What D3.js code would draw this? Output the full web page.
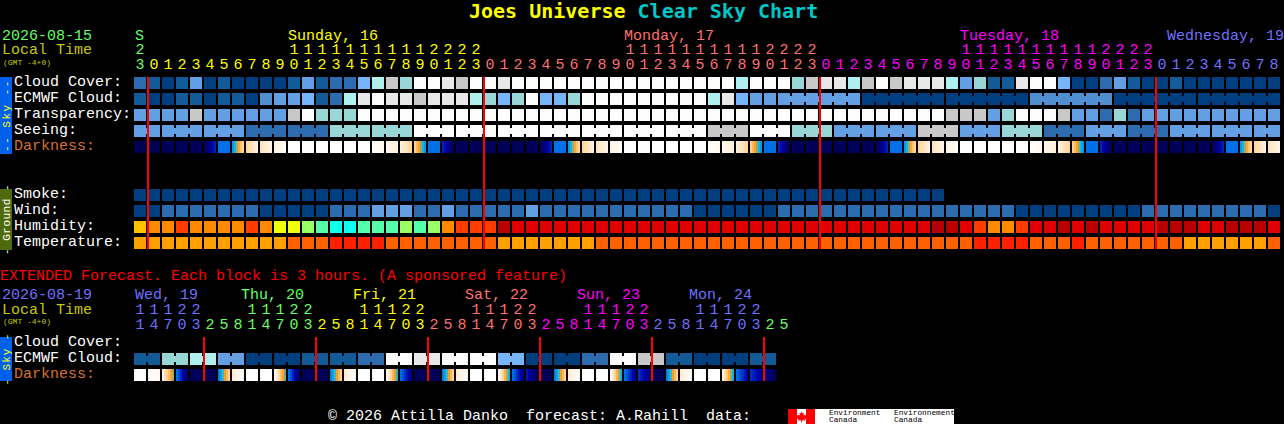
<!DOCTYPE html>
<html>
<head>
<meta charset="utf-8">
<script src="https://cdn.jsdelivr.net/npm/d3@7/dist/d3.min.js"></script>
<style>
html,body{margin:0;padding:0;background:#000;overflow:hidden}
svg{display:block}
text{font-family:"Liberation Mono",monospace;white-space:pre}
text.title{font-family:"DejaVu Sans Mono",monospace}
</style>
</head>
<body>
<script>
// ---------- DATA ----------
const hours = [23,...d3.range(24),...d3.range(24),...d3.range(24),...d3.range(9)];
const hourDays = [["#66ff66",1],["#ffff00",24],["#ff7070",24],["#ff00ff",24],["#7070ff",9]];
const dayLabels = [["S",135,"#66ff66"],["Sunday, 16",288,"#ffff00"],["Monday, 17",624,"#ff7070"],["Tuesday, 18",960,"#ff00ff"],["Wednesday, 19",1167,"#7070ff"]];

const cloudColors = ["#003f7f","#135b98","#2c6cae","#4f8fd0","#62a0e3","#77b5fa","#99d6d6","#aef0ee","#c8c8c8","#e8e8e8","#fcfcfc"];
const humidityColors = ["#b80000","#e00000","#ff3c00","#ff8a00","#ffc000","#eeff10","#99ff66","#55ffaa","#11ffee"];
const temperatureColors = ["#ff2000","#ff6000","#ffa000"];
const darknessStops = [0,1,2,3,4,5,6,7];
const darknessColors = ["#000050","#0000a8","#0070e8","#00b8f0","#ffa020","#ffd090","#fff0dc","#ffffff"];

const cloudCover = [2,1,0,1,4,0,1,0,0,0,0,1,4,1,2,2,5,7,8,6,10,
  10,9,8,10,10,9,10,10,10,10,10,10,10,10,10,10,10,10,10,10,10,10,7,10,10,10,6,8,9,9,7,
  8,10,8,9,9,9,7,4,6,1,1,9,10,10,5,0,0,2,4,1,0,0,1,0,0,0,0,0,0,0];
const ecmwfCloud = [1,0,0,1,1,0,1,1,0,3,4,4,5,1,2,7,9,10,9,9,8,
  9,9,9,7,6,5,6,10,5,5,6,10,10,10,10,10,10,10,10,10,7,9,5,4,4,4,4,4,4,4,4,
  0,0,0,0,0,0,0,0,0,0,0,0,3,3,3,3,3,3,0,0,0,0,0,0,0,0,0,0,0,0];
const ecmwfBlocks = [...Array(46).fill(1),6,6,6,6,6,6];
const transparency = [4,4,4,4,8,4,4,4,4,4,4,8,10,6,6,6,10,10,10,10,10,
  10,10,10,10,10,10,10,10,10,10,10,10,10,10,10,10,10,10,10,10,10,10,10,10,10,10,10,10,10,10,10,
  10,10,10,10,10,10,8,8,8,4,6,10,10,10,8,4,4,2,6,2,4,4,4,4,4,4,4,4,4,4];
const seeing = [4,4,4,4,4,4,4,4,2,2,2,2,2,2,6,6,6,6,6,6,10,
  10,10,10,10,10,10,10,10,10,10,10,10,10,10,10,10,10,10,10,10,8,8,8,10,10,10,6,6,6,4,4,
  4,4,4,4,8,8,8,4,4,4,6,6,6,2,2,2,4,4,4,2,2,2,4,4,4,4,4,4,4,4];
const seeingBlocks = [2,3,3,3,3,3,3,3,3,3,3,3,3,3,3,3,3,3,3,3,3,3,3,3,3,3,3,2];
const darkness = [0,0,.1,.1,.1,[.1,1.3],2,[2.6,5.2],[5.2,6],[5.6,6.3],[6.2,6.8],7,7,7,7,7,7,[6.9,6.5],[6.4,6],[6,5.2],[5,2.6],
  2,[1.3,.1],.1,.1,.1,.1,.1,.1,[.1,1.3],2,[2.6,5.2],[5.2,6],[5.6,6.3],[6.2,6.8],7,7,7,7,7,7,[6.9,6.5],[6.4,6],[6,5.2],[5,2.6],2,[1.3,.1],.1,.1,.1,.1,.1,
  .1,[.1,1.3],2,[2.6,5.2],[5.2,6],[5.6,6.3],[6.2,6.8],7,7,7,7,7,[6.9,6.5],[6.4,6],[6,5.2],[5,2.6],2,[1.3,.1],.1,.1,.1,.1,.1,.1,.1,[.1,1.3],2,[2.6,5.2],[5.2,6],[5.6,6.3]];
const smoke = Array(58).fill(0);
const wind = [0,0,2,2,2,2,2,2,2,0,0,0,0,0,2,2,2,4,4,4,2,
  2,4,2,2,2,2,2,4,2,2,2,2,2,2,2,2,2,2,2,0,0,0,0,0,0,2,2,2,2,2,2,
  2,2,2,2,2,2,2,2,2,2,2,0,0,0,0,0,0,0,0,0,2,2,2,2,2,2,2,2,2,0];
const humidity = [4,3,3,2,3,3,3,3,2,3,5,5,6,7,8,8,7,7,7,6,7,
  6,3,2,2,2,0,1,1,1,1,1,1,1,1,1,1,1,1,1,1,1,1,1,1,1,1,1,1,1,1,1,
  1,1,1,1,1,0,0,1,2,3,3,2,1,1,0,1,0,1,1,1,1,0,0,0,1,1,0,0,0,1];
const temperature = [2,2,2,2,2,2,2,2,2,2,2,1,1,1,0,0,0,0,1,1,1,
  1,1,1,1,1,2,2,2,2,2,2,2,1,1,1,1,1,1,1,1,1,1,1,1,1,1,1,1,1,1,1,
  1,1,1,1,1,1,1,1,0,0,0,0,1,1,1,0,1,1,1,1,1,1,1,2,2,2,2,2,2,1];
const midnights = [1,25,49,73];

const extHours = [11,14,17,20,23,2,5,8,11,14,17,20,23,2,5,8,11,14,17,20,23,2,5,8,11,14,17,20,23,2,5,8,11,14,17,20,23,2,5,8,11,14,17,20,23,2,5];
const extHourDays = [["#7070ff",5],["#66ff66",8],["#ffff00",8],["#ff7070",8],["#ff00ff",8],["#7070ff",8],["#66ff66",2]];
const extDayLabels = [["Wed, 19",135,"#7070ff"],["Thu, 20",241,"#66ff66"],["Fri, 21",353,"#ffff00"],["Sat, 22",465,"#ff7070"],["Sun, 23",577,"#ff00ff"],["Mon, 24",689,"#7070ff"]];
const extEcmwf = [1,1,6,6,7,7,4,4,0,0,0,0,1,1,1,1,2,2,10,10,9,9,10,10,10,10,5,5,0,0,0,0,2,2,10,10,8,8,1,1,0,0,0,0,1,1];
const extBlocks = Array(23).fill(2);
const extDarkness = [7,[7,6.6],[6,3.6],[2,.3],.1,.1,[2.2,5],[5.8,6.8],7,7,[6.5,3.4],[2,.3],.1,.1,[2.2,5],[5.8,6.8],7,[7,6.8],[6.5,3.2],[2,.6],.1,
  .1,[2.2,5],[5.8,6.8],7,7,[6.5,3],[2,.6],[1.2,.1],.1,[2.2,5],[5.8,6.8],7,7,[6.5,3],[2,.8],[1.4,.6],.1,[2.2,5],[5.8,6.8],7,7,[6,3],[2,1],[1.4,.9],[.6,.1]];
const extMidnights = [5,13,21,29,37,45];

// ---------- SCALES ----------
const W = 1284, H = 424, CELL = 12, STEP = 14, LEFT = 134;
const x = d3.scaleBand().domain(d3.range(90)).range([LEFT, LEFT + STEP*90 - 2]).paddingInner(2/STEP).paddingOuter(0);
const mainRowY = d3.scaleLinear().domain([0,1]).range([77,93]);
const extRowY = d3.scaleLinear().domain([0,1]).range([337,353]);
const cloudScale = d3.scaleOrdinal(d3.range(cloudColors.length), cloudColors);
const humidityScale = d3.scaleOrdinal(d3.range(humidityColors.length), humidityColors);
const temperatureScale = d3.scaleOrdinal(d3.range(temperatureColors.length), temperatureColors);
const darknessScale = d3.scaleLinear().domain(darknessStops).range(darknessColors);

const svg = d3.select("body").append("svg").attr("width",W).attr("height",H).attr("viewBox",`0 0 ${W} ${H}`);
svg.append("rect").attr("width",W).attr("height",H).attr("fill","#000");

function label(s,xp,y,fill,size=15,weight="normal"){
  return svg.append("text").attr("x",xp).attr("y",y).attr("fill",fill).attr("font-size",size).attr("font-weight",weight).text(s);
}
function blockStarts(blocks){ let s=[],p=0; blocks.forEach(b=>{s.push(p);p+=b;}); return s; }

function drawRow(values,y,scale,blocks){
  const g = svg.append("g");
  g.selectAll("rect.c").data(values).join("rect").attr("class","c")
    .attr("x",(d,i)=>x(i)).attr("y",y).attr("width",x.bandwidth()).attr("height",CELL).attr("fill",d=>scale(d));
  if(blocks){
    const joins=[];
    blockStarts(blocks).forEach((s,k)=>{ for(let j=0;j<blocks[k]-1;j++) joins.push(s+j); });
    g.selectAll("rect.j").data(joins).join("rect").attr("class","j")
      .attr("x",i=>x(i)+CELL).attr("y",y+3).attr("width",STEP-CELL).attr("height",6).attr("fill",i=>scale(values[i]));
  }
}
function drawDarkness(values,y){
  const strips=[];
  values.forEach((v,i)=>{
    const [l,r]=Array.isArray(v)?v:[v,v];
    const t=d3.scaleLinear().domain([0,5]).range([l,r]);
    d3.range(6).forEach(k=>strips.push({i,k,val:t(k)}));
  });
  svg.append("g").selectAll("rect").data(strips).join("rect")
    .attr("x",d=>x(d.i)+d.k*2).attr("y",y).attr("width",2.05).attr("height",CELL)
    .attr("fill",d=>darknessScale(d.val)).attr("shape-rendering","crispEdges");
}
function hourAxis(hrs,days,y,fmt,keep){
  const colours=[]; days.forEach(([c,n])=>{ for(let k=0;k<n;k++) colours.push(c); });
  const idx=d3.range(hrs.length).filter(i=>keep(hrs[i]));
  const g=svg.append("g").attr("transform",`translate(0,${y})`)
    .call(d3.axisTop(x).tickValues(idx).tickSize(0).tickPadding(0).tickFormat(i=>fmt(hrs[i])));
  g.select(".domain").remove();
  g.attr("font-family",null).attr("font-size",null);
  g.selectAll(".tick text").attr("dy",0).attr("y",0).attr("font-size",15)
    .attr("fill",(i)=>colours[i]);
}
function redLines(list,y0,y1){
  svg.append("g").selectAll("rect").data(list).join("rect")
    .attr("x",i=>x(i)-1).attr("width",2).attr("y",y0).attr("height",y1-y0).attr("fill","#ff0000");
}
function sideBar(y0,y1,fill,textFill,txt,spacing){
  svg.append("rect").attr("x",0).attr("y",y0).attr("width",12).attr("height",y1-y0).attr("fill",fill);
  svg.append("text").attr("transform",`translate(9.5,${(y0+y1)/2}) rotate(-90)`).attr("text-anchor","middle")
    .attr("fill",textFill).attr("font-size",11).attr("letter-spacing",spacing).text(txt);
}

// ---------- TITLE ----------
const title = svg.append("text").attr("class","title").attr("x",469).attr("y",18).attr("font-size",20).attr("font-weight","bold");
title.append("tspan").attr("fill","#ffff00").text("Joes Universe ");
title.append("tspan").attr("fill","#00c8c8").text("Clear Sky Chart");

// ---------- MAIN HEADER ----------
label("2026-08-15",2,40,"#66ff66");
label("Local Time",2,54,"#c8c800");
label("(GMT -4+0)",3,65,"#c8c800",8);
dayLabels.forEach(([s,xp,c])=>label(s,xp,40,c));
hourAxis(hours,hourDays,54,h=>Math.floor(h/10),h=>h>=10);
hourAxis(hours,hourDays,69,h=>h%10,()=>true);

// ---------- MAIN ROWS ----------
sideBar(77,154,"#0060ea","#ffff20","-- Sky --",1.5);
sideBar(189,250,"#4f6a0c","#ffffff","- Ground -",0.5);
[["Cloud Cover:",0],["ECMWF Cloud:",1],["Transparency:",2],["Seeing:",3],["Smoke:",7],["Wind:",8],["Humidity:",9],["Temperature:",10]]
  .forEach(([s,r])=>label(s,14,mainRowY(r)+9,"#ffffff"));
label("Darkness:",14,mainRowY(4)+9,"#d8702e");

drawRow(cloudCover,mainRowY(0),cloudScale);
drawRow(ecmwfCloud,mainRowY(1),cloudScale,ecmwfBlocks);
drawRow(transparency,mainRowY(2),cloudScale);
drawRow(seeing,mainRowY(3),cloudScale,seeingBlocks);
drawDarkness(darkness,mainRowY(4));
drawRow(smoke,mainRowY(7),cloudScale);
drawRow(wind,mainRowY(8),cloudScale);
drawRow(humidity,mainRowY(9),humidityScale);
drawRow(temperature,mainRowY(10),temperatureScale);
redLines(midnights,77,249);

// ---------- EXTENDED ----------
label("EXTENDED Forecast. Each block is 3 hours. (A sponsored feature)",0,280,"#ff0000");
label("2026-08-19",2,299,"#7070ff");
label("Local Time",2,314,"#c8c800");
label("(GMT -4+0)",3,324,"#c8c800",8);
extDayLabels.forEach(([s,xp,c])=>label(s,xp,299,c));
hourAxis(extHours,extHourDays,314,h=>Math.floor(h/10),h=>h>=10);
hourAxis(extHours,extHourDays,329,h=>h%10,()=>true);

sideBar(337,381,"#0060ea","#ffff20","- Sky -",1);
label("Cloud Cover:",14,extRowY(0)+9,"#ffffff");
label("ECMWF Cloud:",14,extRowY(1)+9,"#ffffff");
label("Darkness:",14,extRowY(2)+9,"#d8702e");
drawRow(extEcmwf,extRowY(1),cloudScale,extBlocks);
drawDarkness(extDarkness,extRowY(2));
redLines(extMidnights,337,381);

// ---------- FOOTER ----------
label("© 2026 Attilla Danko  forecast: A.Rahill  data:",328,420,"#ffffff");
const logo = svg.append("g");
svg.append("clipPath").attr("id","logoClip").append("rect").attr("x",788).attr("y",409).attr("width",166).attr("height",15);
logo.attr("clip-path","url(#logoClip)");
logo.append("rect").attr("x",788).attr("y",409).attr("width",166).attr("height",15).attr("fill","#fff");
logo.append("rect").attr("x",788).attr("y",409).attr("width",9).attr("height",15).attr("fill","#ff0000");
logo.append("rect").attr("x",806).attr("y",409).attr("width",9).attr("height",15).attr("fill","#ff0000");
logo.append("path").attr("fill","#ff0000")
  .attr("d","M801.5 411.5l1.2 2 1.2-.5-.4 2.5 1.5-1 .5 1 1.7-.3-.5 1.7.8.5-2.7 2.2.3 1-2.9-.4v2h-1v-2l-2.9.4.3-1-2.7-2.2.8-.5-.5-1.7 1.7.3.5-1 1.5 1-.4-2.5 1.2.5z");
[["Environment",829],["Environnement",894]].forEach(([s,xp])=>
  logo.append("text").attr("x",xp).attr("y",415).attr("font-size",7.8).attr("fill","#000").text(s));
[["Canada",829],["Canada",894]].forEach(([s,xp])=>
  logo.append("text").attr("x",xp).attr("y",421.5).attr("font-size",7.8).attr("fill","#000").text(s));
</script>
</body>
</html>
